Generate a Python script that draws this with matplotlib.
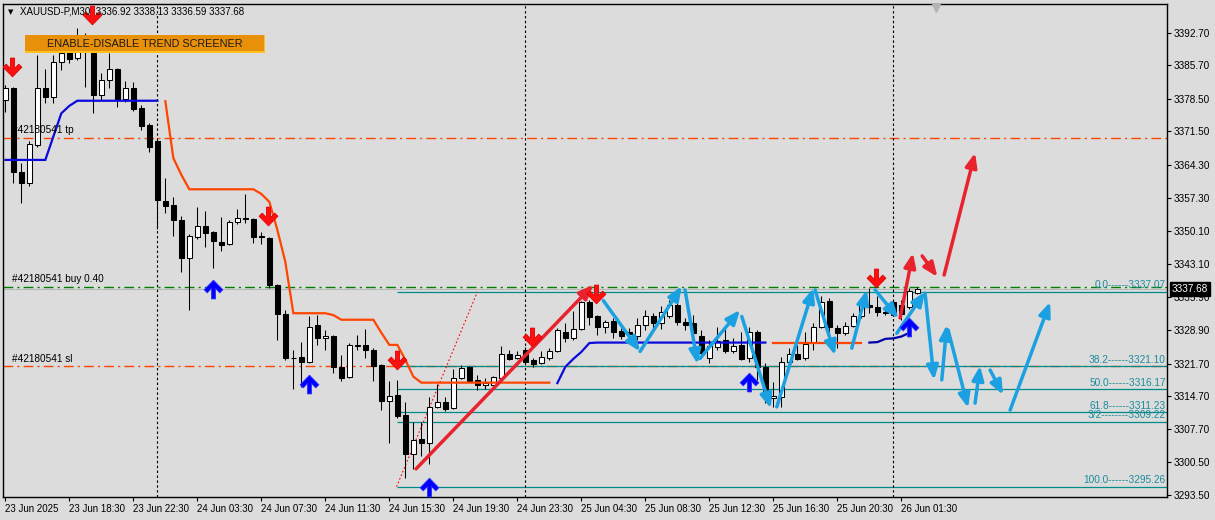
import matplotlib
matplotlib.use('Agg')
import matplotlib.pyplot as plt
import matplotlib.transforms as mtransforms
from matplotlib.patches import Rectangle
import numpy as np

plt.rcParams['font.family'] = ['Liberation Sans', 'DejaVu Sans']

BG = '#DCDCDC'

# XAUUSD-P, M30 candles (one per bar, left to right)
opens = [3378.3, 3380.8, 3362.7, 3360.5, 3368.6, 3380.8, 3379.0, 3386.4, 3388.3, 3387.2,
         3391.1, 3388.3, 3379.3, 3382.6, 3384.9, 3378.4, 3380.8, 3376.6, 3372.9, 3369.5,
         3356.6, 3355.7, 3352.5, 3344.3, 3348.8, 3351.2, 3349.9, 3347.8, 3347.3, 3352.0,
         3352.9, 3352.7, 3349.1, 3348.7, 3338.6, 3332.3, 3322.8, 3323.0, 3322.1, 3329.9,
         3327.1, 3327.6, 3321.0, 3318.8, 3325.5, 3325.6, 3324.6, 3321.4, 3313.7, 3315.0,
         3310.7, 3302.2, 3305.5, 3304.7, 3312.3, 3313.4, 3312.1, 3318.5, 3320.9, 3318.2,
         3317.0, 3317.0, 3318.7, 3323.8, 3322.8, 3324.6, 3322.5, 3321.8, 3322.8, 3324.3,
         3328.5, 3327.1, 3329.1, 3334.9, 3331.9, 3329.5, 3330.8, 3328.7, 3328.5, 3327.6,
         3330.0, 3331.8, 3330.5, 3331.8, 3334.3, 3330.7, 3330.3, 3327.6, 3322.8, 3325.3,
         3326.8, 3324.4, 3325.7, 3322.8, 3328.5, 3321.0, 3314.3, 3314.6, 3322.1, 3323.8,
         3322.8, 3326.4, 3329.5, 3335.2, 3329.3, 3328.2, 3329.8, 3331.8, 3334.3, 3333.8,
         3332.8, 3335.0, 3334.3, 3333.8, 3336.92]
highs = [3381.5, 3381.1, 3364.7, 3369.5, 3387.9, 3384.9, 3387.9, 3389.4, 3390.1, 3393.7,
         3392.6, 3390.1, 3384.0, 3388.3, 3385.1, 3382.3, 3382.2, 3377.2, 3373.3, 3369.9,
         3361.6, 3357.5, 3353.4, 3349.5, 3355.4, 3354.5, 3350.2, 3353.2, 3352.5, 3354.9,
         3358.1, 3352.9, 3350.0, 3348.9, 3338.8, 3333.2, 3324.5, 3326.4, 3331.9, 3332.1,
         3328.9, 3327.8, 3323.5, 3326.1, 3327.8, 3329.1, 3325.0, 3321.6, 3318.0, 3318.2,
         3313.5, 3309.2, 3309.2, 3314.5, 3317.3, 3314.6, 3320.5, 3321.4, 3321.2, 3319.2,
         3318.5, 3319.1, 3325.5, 3324.5, 3324.3, 3325.3, 3322.9, 3324.3, 3325.0, 3329.4,
         3330.3, 3333.0, 3335.2, 3335.3, 3332.1, 3331.1, 3331.4, 3329.3, 3329.3, 3331.5,
         3333.2, 3332.6, 3334.1, 3335.3, 3335.3, 3331.5, 3332.1, 3328.9, 3326.8, 3329.6,
         3329.3, 3327.2, 3328.5, 3329.6, 3328.9, 3321.8, 3317.8, 3323.2, 3325.0, 3325.7,
         3328.5, 3330.3, 3336.1, 3335.7, 3330.0, 3330.7, 3332.5, 3335.3, 3337.9, 3336.1,
         3333.2, 3335.3, 3335.3, 3337.9, 3338.13]
lows = [3375.7, 3360.4, 3356.1, 3359.9, 3368.2, 3377.7, 3377.7, 3384.6, 3386.1, 3386.8,
        3381.1, 3375.5, 3378.3, 3380.8, 3376.7, 3377.9, 3375.8, 3371.8, 3367.2, 3350.5,
        3354.1, 3349.1, 3341.4, 3333.2, 3348.4, 3346.8, 3342.3, 3345.9, 3347.1, 3351.6,
        3351.8, 3347.6, 3347.4, 3337.9, 3326.8, 3322.5, 3316.2, 3316.7, 3321.8, 3325.7,
        3324.6, 3319.7, 3318.0, 3318.5, 3324.6, 3322.8, 3318.0, 3311.7, 3304.6, 3310.0,
        3297.2, 3299.0, 3301.9, 3300.1, 3312.2, 3311.5, 3311.9, 3318.4, 3317.9, 3316.0,
        3316.2, 3316.9, 3318.6, 3322.5, 3322.6, 3321.8, 3320.9, 3321.6, 3322.5, 3324.1,
        3326.4, 3326.8, 3328.9, 3330.0, 3327.8, 3328.3, 3327.1, 3326.9, 3327.2, 3326.8,
        3328.9, 3329.3, 3329.1, 3331.5, 3330.0, 3328.9, 3327.5, 3323.2, 3321.8, 3324.6,
        3324.0, 3324.0, 3322.5, 3322.1, 3318.2, 3313.2, 3312.4, 3312.4, 3322.0, 3322.5,
        3322.5, 3324.6, 3329.3, 3327.5, 3325.0, 3327.8, 3329.6, 3331.4, 3332.5, 3331.8,
        3332.1, 3331.8, 3331.1, 3333.4, 3336.59]
closes = [3380.8, 3362.7, 3360.5, 3368.8, 3380.8, 3379.0, 3386.4, 3388.3, 3387.1, 3388.6,
          3389.0, 3379.3, 3382.6, 3384.9, 3378.4, 3380.8, 3376.3, 3372.7, 3368.1, 3356.7,
          3355.6, 3352.4, 3344.4, 3349.1, 3351.2, 3349.8, 3347.9, 3347.2, 3352.0, 3352.9,
          3352.7, 3348.9, 3348.8, 3338.5, 3332.3, 3322.8, 3322.9, 3322.1, 3329.6, 3327.1,
          3327.6, 3320.9, 3318.7, 3325.6, 3325.6, 3324.6, 3321.2, 3313.7, 3314.8, 3310.5,
          3302.2, 3305.2, 3304.7, 3312.3, 3313.4, 3312.0, 3318.5, 3320.7, 3318.0, 3317.0,
          3317.6, 3318.8, 3323.8, 3322.7, 3323.5, 3322.0, 3321.6, 3323.0, 3324.4, 3328.8,
          3327.1, 3329.1, 3334.9, 3331.6, 3329.5, 3330.7, 3328.5, 3327.6, 3328.0, 3330.0,
          3331.8, 3330.5, 3332.8, 3334.3, 3330.7, 3330.0, 3328.2, 3323.9, 3325.5, 3326.6,
          3324.4, 3325.5, 3322.6, 3328.5, 3321.0, 3314.6, 3314.7, 3322.0, 3323.8, 3322.7,
          3325.9, 3329.5, 3334.9, 3329.5, 3328.2, 3329.8, 3331.8, 3334.3, 3333.9, 3332.8,
          3332.5, 3332.1, 3332.3, 3337.3, 3337.68]

time_labels = ['23 Jun 2025', '23 Jun 18:30', '23 Jun 22:30', '24 Jun 03:30', '24 Jun 07:30',
               '24 Jun 11:30', '24 Jun 15:30', '24 Jun 19:30', '24 Jun 23:30', '25 Jun 04:30',
               '25 Jun 08:30', '25 Jun 12:30', '25 Jun 16:30', '25 Jun 20:30', '26 Jun 01:30']
time_label_bars = [0, 8, 16, 24, 32, 40, 48, 56, 64, 72, 80, 88, 96, 104, 112]
day_breaks = [19, 65, 111]

price_ticks = [3392.70, 3385.70, 3378.50, 3371.50, 3364.30, 3357.30, 3350.10, 3343.10,
               3335.90, 3328.90, 3321.70, 3314.70, 3307.70, 3300.50, 3293.50]

# trend indicator segments (first bar index, values)
blue_a_start = 0
blue_a = [3365.4, 3365.4, 3365.4, 3365.4, 3365.4, 3365.4, 3370.4, 3375.4, 3377.0, 3378.1,
          3378.1, 3378.1, 3378.1, 3378.1, 3378.1, 3378.1, 3378.1, 3378.1, 3378.1, 3378.1]
orange_a_start = 20
orange_a = [3378.0, 3365.8, 3362.2, 3359.1, 3359.1, 3359.1, 3359.1, 3359.1, 3359.1, 3359.1,
            3359.1, 3359.1, 3358.1, 3356.4, 3350.4, 3343.5, 3332.5, 3332.5, 3332.5, 3332.5,
            3332.5, 3332.1, 3331.1, 3331.1, 3331.1, 3331.1, 3331.1, 3328.3, 3325.7, 3325.7,
            3322.5, 3318.9, 3317.6, 3317.6, 3317.6, 3317.6, 3317.6, 3317.6, 3317.6, 3317.6,
            3317.6, 3317.6, 3317.6, 3317.6, 3317.6, 3317.6, 3317.6, 3317.6, 3317.6]
blue_b_start = 69
blue_b = [3317.5, 3321.0, 3322.7, 3324.2, 3326.1, 3326.2, 3326.2, 3326.2, 3326.2, 3326.2,
          3326.2, 3326.2, 3326.2, 3326.2, 3326.2, 3326.2, 3326.2, 3326.2, 3326.2, 3326.2,
          3326.2, 3326.2, 3326.2, 3326.2, 3326.2, 3326.2, 3326.2]
orange_b_start = 96
orange_b = [3326.2, 3326.2, 3326.2, 3326.2, 3326.2, 3326.2, 3326.2, 3326.2, 3326.2, 3326.2,
            3326.2, 3326.2]
navy_c_start = 108
navy_c = [3326.2, 3326.3, 3327.0, 3327.1, 3327.5, 3328.3]

# signal arrows
sell_bars = [0.8, 10.8, 32.8, 48.9, 65.8, 73.8, 108.8]
sell_prices = [3385.1, 3396.3, 3353.2, 3322.3, 3327.2, 3336.4, 3339.9]
buy_bars = [25.9, 38.0, 52.9, 93.0, 113.0]
buy_prices = [3338.0, 3317.6, 3295.4, 3318.0, 3329.8]

# order lines
tp_price = 3370.2
buy_price = 3338.2
sl_price = 3321.2
bid_price = 3337.68

# fibonacci
fib_start_bar = 48.9
fib_levels = [3337.07, 3321.10, 3316.17, 3311.23, 3309.22, 3295.26]
fib_labels = ['0.0------3337.07', '38.2------3321.10', '50.0------3316.17',
              '61.8------3311.23', '3/2--------3309.22', '100.0------3295.26']
fib_trend = [(48.9, 3295.26), (59.0, 3337.07)]

# drawn zigzag arrows (bar, price) -> (bar, price)
blue_zigzag = [((74.75, 3335.2), (79.34, 3324.3)), ((79.34, 3324.3), (84.55, 3338.3)),
               ((84.96, 3337.5), (86.53, 3321.6)), ((86.84, 3322.8), (91.84, 3333.2)),
               ((92.05, 3331.8), (95.68, 3312.1)), ((96.43, 3312.4), (101.0, 3337.9)),
               ((101.21, 3337.5), (103.71, 3323.5)), ((105.8, 3325.0), (107.68, 3337.5)),
               ((108.71, 3337.5), (111.63, 3331.4)), ((111.43, 3328.2), (114.96, 3337.1)),
               ((114.96, 3336.8), (116.09, 3318.2)), ((117.05, 3318.2), (117.68, 3330.0)),
               ((117.84, 3328.9), (120.34, 3312.2)), ((121.21, 3313.2), (121.84, 3321.2)),
               ((123.09, 3320.3), (124.71, 3315.0)), ((125.59, 3311.7), (130.59, 3334.9))]
red_zigzag = [((51.34, 3299.1), (73.5, 3338.6)), ((111.84, 3331.5), (113.45, 3345.4)),
              ((114.6, 3344.8), (116.5, 3340.3)), ((117.34, 3340.7), (121.21, 3366.9))]

fig = plt.figure(figsize=(12.15, 5.2), dpi=100)
fig.patch.set_facecolor(BG)
ax = fig.add_axes([3 / 1215, 23 / 520, 1164 / 1215, 493 / 520])
ax.set_facecolor(BG)
ax.set_xlim(-0.29, 145.2)
ax.set_ylim(3293.06, 3398.86)
trans = mtransforms.blended_transform_factory(ax.transAxes, ax.transData)

# horizontal order / fib lines
ax.axhline(tp_price, color='#FF4500', lw=1, dashes=(7, 3, 1.5, 3), zorder=1)
ax.axhline(sl_price, color='#FF4500', lw=1, dashes=(7, 3, 1.5, 3), zorder=1)
ax.axhline(buy_price, color='#008000', lw=1, dashes=(7, 3, 1.5, 3), zorder=1)
ax.axhline(bid_price, color='#B8B8B8', lw=0.8, zorder=1)
for lvl, lab in zip(fib_levels, fib_labels):
    ax.hlines(lvl, fib_start_bar, 145.2, color='#008B8B', lw=0.9, zorder=1)
    ax.text(0.999, lvl + 0.35, lab, transform=trans, ha='right', va='bottom',
            fontsize=7.3, color='#1C8C9C', zorder=6)
ax.plot([p[0] for p in fib_trend], [p[1] for p in fib_trend], color='red', lw=0.8,
        ls=(0, (1.5, 2)), zorder=1)

for lab, price in [('#42180541 tp', tp_price), ('#42180541 buy 0.40', buy_price),
                   ('#42180541 sl', sl_price)]:
    ax.text(0.0077, price + 0.5, lab, transform=trans, fontsize=7.2, color='black',
            va='bottom', ha='left', zorder=6)

for b in day_breaks:
    ax.axvline(b, color='black', lw=0.8, dashes=(2.2, 2.2), zorder=1)

# candles
o = np.array(opens)
c = np.array(closes)
idx = np.arange(len(o))
ax.vlines(idx, lows, highs, color='black', lw=0.75, zorder=3)
bull = c >= o
heights = np.maximum(np.abs(c - o), 0.05)
ax.bar(idx, heights, bottom=np.minimum(o, c), width=0.6,
       color=np.where(bull, 'white', 'black'), edgecolor='black', lw=0.75, zorder=4)

# indicator lines
def seg(start, vals, color, lw):
    ax.plot(np.arange(start, start + len(vals)), vals, color=color, lw=lw,
            solid_joinstyle='miter', zorder=5)

seg(blue_a_start, blue_a, '#0A0ADC', 1.6)
seg(orange_a_start, orange_a, '#FF4500', 1.6)
seg(blue_b_start, blue_b, '#0A0ADC', 1.6)
seg(orange_b_start, orange_b, '#FF4500', 1.6)
seg(navy_c_start, navy_c, '#0000A8', 1.6)

# zigzag arrows
head = '-|>,head_length=0.6,head_width=0.25'
for (x0, y0), (x1, y1) in blue_zigzag:
    ax.annotate('', xy=(x1, y1), xytext=(x0, y0),
                arrowprops=dict(arrowstyle=head, color='#1BA1E2', lw=2.5,
                                mutation_scale=14, shrinkA=0, shrinkB=0), zorder=7)
for (x0, y0), (x1, y1) in red_zigzag:
    ax.annotate('', xy=(x1, y1), xytext=(x0, y0),
                arrowprops=dict(arrowstyle=head, color='#E8232E', lw=2.5,
                                mutation_scale=14, shrinkA=0, shrinkB=0), zorder=7)

# signal arrows
down_verts = [(-0.2, 1), (0.2, 1), (0.2, 0.0), (0.6, 0.42), (0.9, 0.12), (0, -0.8),
              (-0.9, 0.12), (-0.6, 0.42), (-0.2, 0.0), (-0.2, 1)]
up_verts = [(x, -y) for x, y in down_verts]
ax.plot(sell_bars, sell_prices, ls='none', marker=down_verts, ms=15, color='#FF1010',
        mec='#E00000', mew=0.6, zorder=8)
ax.plot(buy_bars, buy_prices, ls='none', marker=up_verts, ms=15, color='#0000FF',
        mec='#3030FF', mew=0.6, zorder=8)

# axes styling
for s in ax.spines.values():
    s.set_color('black')
    s.set_linewidth(1)
ax.yaxis.tick_right()
ax.set_yticks(price_ticks)
ax.set_yticklabels([f'{p:.2f}' for p in price_ticks])
ax.set_xticks(time_label_bars)
ax.set_xticklabels(time_labels)
ax.tick_params(axis='y', direction='out', length=3, width=0.8, pad=2, labelsize=7.2)
ax.tick_params(axis='x', direction='out', length=3, width=0.8, pad=2, labelsize=7)
for lbl in ax.get_xticklabels():
    lbl.set_ha('left')

ax.text(1.004, bid_price, '3337.68', transform=trans, color='white', fontsize=7.2,
        va='center', ha='left', clip_on=False, zorder=20,
        bbox=dict(facecolor='black', edgecolor='black', pad=1.2))

ax.plot([116.3], [0.992], transform=mtransforms.blended_transform_factory(ax.transData, ax.transAxes),
        marker='v', ms=6, color='#B4B4B4', clip_on=False, zorder=9)

# header and banner
fig.text(8 / 1215, 1 - 12 / 520, '\u25BC', fontsize=5, va='center', ha='left',
         family='DejaVu Sans')
fig.text(20 / 1215, 1 - 12 / 520, 'XAUUSD-P,M30  3336.92 3338.13 3336.59 3337.68',
         fontsize=7, va='center', ha='left')
fig.add_artist(Rectangle((25 / 1215, 1 - 52.5 / 520), 240 / 1215, 17.5 / 520,
                         transform=fig.transFigure, facecolor='#E8900A',
                         edgecolor='none', zorder=10))
fig.add_artist(Rectangle((25 / 1215, 1 - 52.5 / 520), 240 / 1215, 1.5 / 520,
                         transform=fig.transFigure, facecolor='#FFC020',
                         edgecolor='none', zorder=11))
fig.add_artist(Rectangle((263.5 / 1215, 1 - 52.5 / 520), 1.5 / 1215, 17.5 / 520,
                         transform=fig.transFigure, facecolor='#FFC020',
                         edgecolor='none', zorder=11))
fig.text(145 / 1215, 1 - 44 / 520, 'ENABLE-DISABLE TREND SCREENER', fontsize=7.8,
         va='center', ha='center', color='#1A1A1A', zorder=12)

fig.savefig('out.png', dpi=100, facecolor=BG)
